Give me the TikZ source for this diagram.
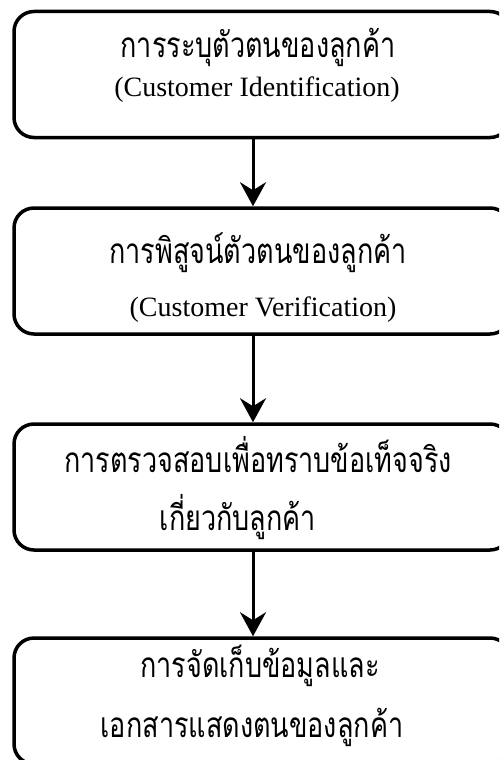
\documentclass[tikz,border=0pt]{standalone}
\usepackage{fontspec}
\setmainfont{Liberation Serif}
\newfontfamily\thaifont[Script=Thai]{Loma}
\usetikzlibrary{arrows.meta}
\newcommand{\tallthai}[1]{\scalebox{1}[1.3]{#1}}
\begin{document}
\begin{tikzpicture}[x=1pt,y=-1pt,
  box/.style={draw, line width=3.5pt, rounded corners=20pt, minimum width=496pt, minimum height=126pt, inner sep=0pt},
  thaitxt/.style={anchor=base, inner sep=0pt, font=\thaifont\fontsize{27}{30}\selectfont},
  lattxt/.style={anchor=base, inner sep=0pt, font=\fontsize{28}{32}\selectfont},
  flow/.style={line width=3pt, -{Stealth[length=24pt, width=26pt, inset=8pt]}}]
\useasboundingbox (0,0) rectangle (499,760);
\clip (0,0) rectangle (499,760);
\node[box] (b1) at (262,74.5) {};
\node[box] (b2) at (262,271) {};
\node[box] (b3) at (262,487) {};
\node[box] (b4) at (262,701) {};
\node[thaitxt] (t1a) at (258,57) {\tallthai{การระบุตัวตนของลูกค้า}};
\node[lattxt] (t1b) at (257,96) {(Customer Identification)};
\node[thaitxt] (t2a) at (258,263) {\tallthai{การพิสูจน์ตัวตนของลูกค้า}};
\node[lattxt] (t2b) at (263,316) {(Customer Verification)};
\node[thaitxt] (t3a) at (258,472) {\tallthai{การตรวจสอบเพื่อทราบข้อเท็จจริง}};
\node[thaitxt] (t3b) at (238,530) {\tallthai{เกี่ยวกับลูกค้า}};
\node[thaitxt] (t4a) at (260,677) {\tallthai{การจัดเก็บข้อมูลและ}};
\node[thaitxt] (t4b) at (252,737) {\tallthai{เอกสารแสดงตนของลูกค้า}};
\draw[flow] ([xshift=-9pt]b1.south) -- ([xshift=-9pt]b2.north);
\draw[flow] ([xshift=-9pt]b2.south) -- ([xshift=-9pt]b3.north);
\draw[flow] ([xshift=-9pt]b3.south) -- ([xshift=-9pt]b4.north);
\end{tikzpicture}
\end{document}
